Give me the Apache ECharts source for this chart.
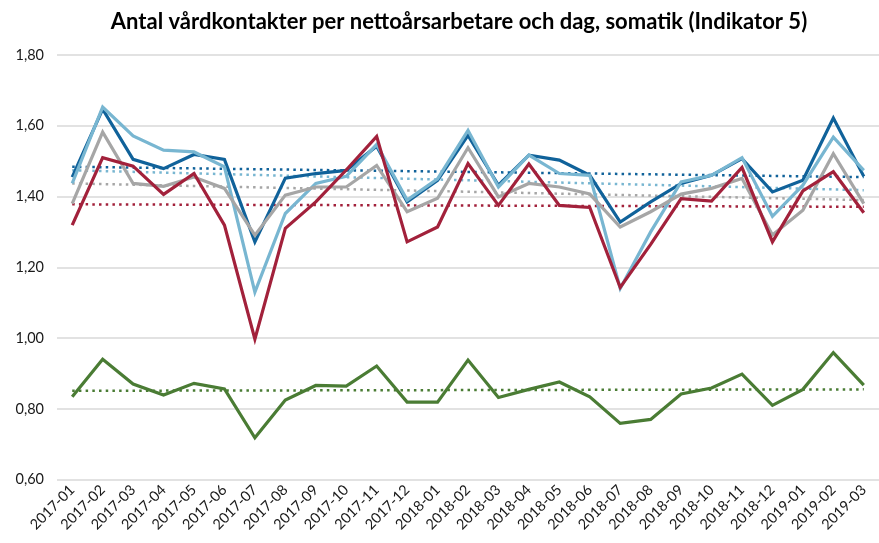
<!DOCTYPE html>
<html>
<head>
<meta charset="utf-8">
<script src="https://cdn.jsdelivr.net/npm/echarts@6/dist/echarts.min.js"></script>
<style>html,body{margin:0;padding:0;background:#fff}#c{width:879px;height:543px}</style>
</head>
<body>
<div id="c"></div>
<script>
const categories = ['2017-01','2017-02','2017-03','2017-04','2017-05','2017-06','2017-07','2017-08','2017-09','2017-10','2017-11','2017-12','2018-01','2018-02','2018-03','2018-04','2018-05','2018-06','2018-07','2018-08','2018-09','2018-10','2018-11','2018-12','2019-01','2019-02','2019-03'];

const darkBlue  = [1.455,1.647,1.505,1.479,1.519,1.505,1.272,1.452,1.465,1.474,1.542,1.385,1.446,1.573,1.432,1.517,1.503,1.460,1.328,1.385,1.437,1.460,1.507,1.413,1.446,1.622,1.457];
const lightBlue = [1.437,1.653,1.571,1.531,1.526,1.484,1.130,1.352,1.437,1.457,1.547,1.390,1.450,1.587,1.427,1.517,1.465,1.460,1.140,1.300,1.441,1.460,1.510,1.344,1.432,1.568,1.474];
const gray      = [1.380,1.582,1.437,1.429,1.455,1.423,1.291,1.404,1.427,1.427,1.488,1.357,1.395,1.538,1.399,1.437,1.427,1.407,1.314,1.357,1.407,1.423,1.451,1.291,1.361,1.521,1.380];
const red       = [1.319,1.510,1.486,1.406,1.465,1.319,0.997,1.310,1.385,1.475,1.570,1.272,1.314,1.493,1.375,1.492,1.375,1.369,1.143,1.265,1.394,1.387,1.482,1.272,1.416,1.470,1.354];
const green     = [0.834,0.940,0.870,0.839,0.872,0.856,0.718,0.825,0.866,0.864,0.921,0.819,0.819,0.938,0.832,0.855,0.876,0.834,0.759,0.770,0.842,0.859,0.898,0.810,0.855,0.959,0.867];

// trend lines (start value at first month, end value at last month)
const trendStart = [1.484, 1.474, 1.437, 1.378, 0.851];
const trendEnd   = [1.455, 1.418, 1.390, 1.371, 0.855];

const yTicks = { min: 0.6, max: 1.8, interval: 0.2 };

const names = ['darkBlue','lightBlue','gray','red','green'];
const colors = ['#10629a','#78b6d1','#a6a6a6','#a2213b','#4a7c34'];
const values = [darkBlue, lightBlue, gray, red, green];

const series = [];
values.forEach((v, i) => {
  series.push({
    name: names[i] + 'Trend', type: 'line', silent: true, symbol: 'none',
    data: [[categories[0], trendStart[i]], [categories[categories.length-1], trendEnd[i]]],
    lineStyle: { color: colors[i], width: 2.5, type: [2.5, 4.2], cap: 'butt' },
    z: 2
  });
});
values.forEach((v, i) => {
  series.push({
    name: names[i], type: 'line', symbol: 'none', data: v,
    lineStyle: { color: colors[i], width: 3.2, join: 'miter' },
    z: 3
  });
});

const chart = echarts.init(document.getElementById('c'), null, { renderer: 'canvas' });
chart.setOption({
  animation: false,
  backgroundColor: '#fff',
  title: {
    text: 'Antal vårdkontakter per nettoårsarbetare och dag, somatik (Indikator 5)',
    left: 454, top: 6, textAlign: 'center',
    textStyle: { fontFamily: 'Lato', fontWeight: 'bold', fontSize: 22, color: '#000' }
  },
  grid: { left: 57, top: 55, width: 832, height: 424.6, containLabel: false },
  xAxis: {
    type: 'category', data: categories, boundaryGap: true,
    axisLine: { show: false }, axisTick: { show: false },
    axisLabel: { rotate: 45, interval: 0, fontFamily: 'Lato', fontSize: 14.5, color: '#1a1a1a', margin: 8 }
  },
  yAxis: {
    type: 'value', min: yTicks.min, max: yTicks.max, interval: yTicks.interval,
    axisLine: { show: false }, axisTick: { show: false },
    splitLine: { lineStyle: { color: '#d9d9d9', width: 1.5 } },
    axisLabel: { fontFamily: 'Lato', fontSize: 14.5, color: '#1a1a1a', margin: 13,
      formatter: v => v.toFixed(2).replace('.', ',') }
  },
  series: series
});
</script>
</body>
</html>
